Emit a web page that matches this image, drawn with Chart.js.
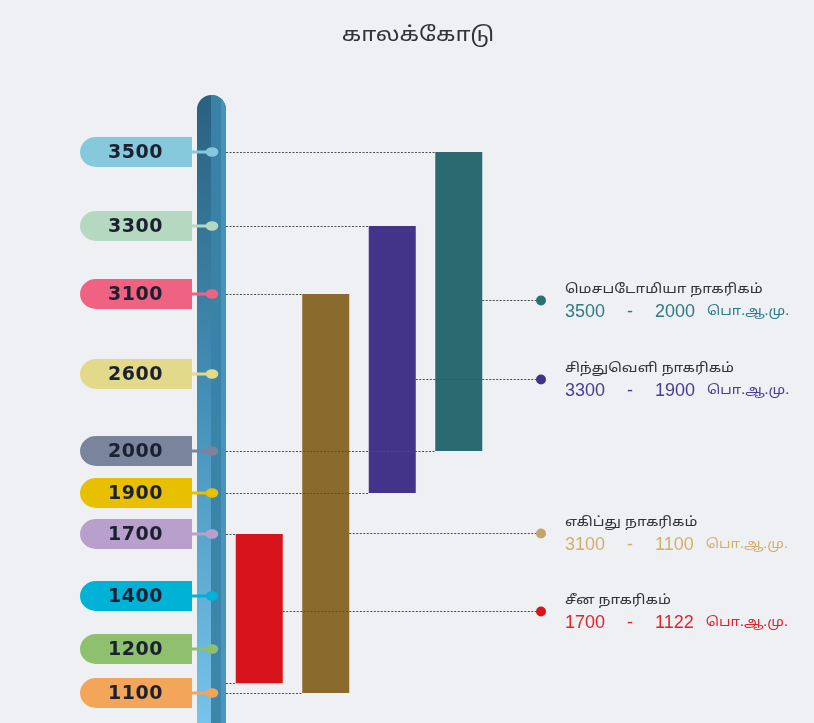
<!DOCTYPE html>
<html>
<head>
<meta charset="utf-8">
<script src="https://cdn.jsdelivr.net/npm/chart.js@4.4.0/dist/chart.umd.min.js"></script>
<style>
html, body { margin: 0; padding: 0; background: #eff0f4; }
#wrap { width: 814px; height: 723px; position: relative; }
</style>
</head>
<body>
<div id="wrap"><canvas id="c"></canvas></div>
<script>
// ---------- data ----------
const chartTitle = 'காலக்கோடு';
const civilizations = ['சீன நாகரிகம்', 'எகிப்து நாகரிகம்', 'சிந்துவெளி நாகரிகம்', 'மெசபடோமியா நாகரிகம்'];
const startYears = [1700, 3100, 3300, 3500];
const endYears = [1122, 1100, 1900, 2000];
const eraSuffix = 'பொ.ஆ.மு.';
const tickYears = [3500, 3300, 3100, 2600, 2000, 1900, 1700, 1400, 1200, 1100];
const tickLabels = ['3500', '3300', '3100', '2600', '2000', '1900', '1700', '1400', '1200', '1100'];
const labelAnchorYears = [1343, 1705, 2561, 3062];

// ---------- styles / layout ----------
const barColors = ['#d7141c', '#8b6a2e', '#43348a', '#2a6a70'];
const rangeTextColors = ['#e2232a', '#d2b06c', '#4a3c98', '#2d7c88'];
const labelDotColors = ['#d7141c', '#c4a468', '#3f3388', '#2a6f74'];
const tagColors = ['#87c9dc', '#b5d9c0', '#ef6282', '#e3d98a', '#7a849c', '#e8c000', '#b9a0cc', '#00b2d6', '#8fc06e', '#f3a65a'];
const tickGapWeights = [74, 68, 80, 77, 42, 41, 62, 53, 44];
const tamilFont = '"Noto Sans Tamil", "Latha", "Lohit Tamil", "Noto Sans", sans-serif';
const tamilStretch = 1.18;

// Timeline scale: ordinal-ish mapping between the labelled years
class TimelineScale extends Chart.LinearScale {
  static id = 'timeline';
  static defaults = {};
  _weightFor(value) {
    const s = tickYears, g = tickGapWeights;
    let cum = 0;
    for (let i = 0; i < s.length - 1; i++) {
      if (value >= s[i + 1] || i === s.length - 2) {
        const f = (s[i] - value) / (s[i] - s[i + 1]);
        return cum + f * g[i];
      }
      cum += g[i];
    }
    return cum;
  }
  _total() { return tickGapWeights.reduce((a, b) => a + b, 0); }
  getPixelForValue(value) {
    return this.top + this._weightFor(value) / this._total() * (this.bottom - this.top);
  }
  getValueForPixel(pixel) {
    const w = (pixel - this.top) / (this.bottom - this.top) * this._total();
    const s = tickYears, g = tickGapWeights;
    let cum = 0;
    for (let i = 0; i < g.length; i++) {
      if (w <= cum + g[i] || i === g.length - 1) {
        const f = (w - cum) / g[i];
        return s[i] - f * (s[i] - s[i + 1]);
      }
      cum += g[i];
    }
    return s[s.length - 1];
  }
}
Chart.register(TimelineScale);

function dotted(ctx) {
  ctx.strokeStyle = '#4f4f4f';
  ctx.lineWidth = 1;
  ctx.setLineDash([2, 1.5]);
}

function tamilText(ctx, text, x, y, size, align) {
  ctx.save();
  ctx.font = size + 'px ' + tamilFont;
  ctx.textAlign = align || 'left';
  ctx.textBaseline = 'middle';
  ctx.translate(x, y);
  ctx.scale(tamilStretch, 1);
  ctx.fillText(text, 0, 0);
  ctx.restore();
}

const timelinePlugin = {
  id: 'timelineDecor',
  beforeDraw(chart) {
    const ctx = chart.ctx;
    ctx.save();
    ctx.fillStyle = '#eff0f4';
    ctx.fillRect(0, 0, chart.width, chart.height);
    ctx.fillStyle = '#333333';
    tamilText(ctx, chartTitle, 418, 37, 20, 'center');
    ctx.restore();
  },
  beforeDatasetsDraw(chart) {
    const ctx = chart.ctx, ys = chart.scales.y, area = chart.chartArea;
    const pipeRight = area.left, pipeLeft = area.left - 29, pipeTop = 95, pipeBottom = chart.height;
    const r = (pipeRight - pipeLeft) / 2;
    ctx.save();
    const base = ctx.createLinearGradient(0, pipeTop, 0, pipeBottom);
    base.addColorStop(0, '#29617e');
    base.addColorStop(0.5, '#4591b9');
    base.addColorStop(1, '#77c3eb');
    ctx.beginPath();
    ctx.moveTo(pipeLeft, pipeBottom);
    ctx.lineTo(pipeLeft, pipeTop + r);
    ctx.arc(pipeLeft + r, pipeTop + r, r, Math.PI, 0);
    ctx.lineTo(pipeRight, pipeBottom);
    ctx.closePath();
    ctx.fillStyle = base;
    ctx.fill();
    ctx.clip();
    ctx.fillStyle = 'rgba(58,131,168,0.95)';
    ctx.fillRect(pipeLeft + 14, pipeTop, 10, pipeBottom - pipeTop);
    ctx.fillStyle = 'rgba(74,148,186,0.95)';
    ctx.fillRect(pipeLeft + 24, pipeTop, 5, pipeBottom - pipeTop);
    ctx.restore();

    const tagRight = pipeLeft - 5, tagLeft = 80, tagH = 30, dotX = pipeLeft + 15;
    tickYears.forEach((yr, i) => {
      const y = ys.getPixelForValue(yr);
      ctx.save();
      ctx.fillStyle = tagColors[i];
      ctx.beginPath();
      ctx.moveTo(tagRight, y - tagH / 2);
      ctx.lineTo(tagLeft + 16, y - tagH / 2);
      ctx.ellipse(tagLeft + 16, y, 16, tagH / 2, 0, -Math.PI / 2, Math.PI / 2, true);
      ctx.lineTo(tagRight, y + tagH / 2);
      ctx.closePath();
      ctx.fill();
      ctx.fillRect(tagRight - 1, y - 1.5, dotX - tagRight, 3);
      ctx.beginPath();
      ctx.ellipse(dotX, y, 6.3, 4.8, 0, 0, Math.PI * 2);
      ctx.fill();
      ctx.fillStyle = '#1b2130';
      ctx.font = 'bold 19px "DejaVu Sans", "Liberation Sans", Arial, sans-serif';
      try { ctx.letterSpacing = '0.5px'; } catch (e) {}
      ctx.textAlign = 'center';
      ctx.textBaseline = 'middle';
      ctx.fillText(tickLabels[i], 135.5, y + 1);
      ctx.restore();
    });
  },
  afterDatasetsDraw(chart) {
    const ctx = chart.ctx, ys = chart.scales.y, area = chart.chartArea;
    const meta = chart.getDatasetMeta(0);
    const pipeRight = area.left;
    const labelDotX = area.right + 49, textX = 565;
    ctx.save();
    meta.data.forEach((bar, i) => {
      const left = bar.x - bar.width / 2, right = bar.x + bar.width / 2;
      dotted(ctx);
      [startYears[i], endYears[i]].forEach(v => {
        const y = Math.round(ys.getPixelForValue(v)) + 0.5;
        ctx.beginPath();
        ctx.moveTo(pipeRight, y);
        ctx.lineTo(left, y);
        ctx.stroke();
      });
      const ay = Math.round(ys.getPixelForValue(labelAnchorYears[i])) + 0.5;
      ctx.beginPath();
      ctx.moveTo(right, ay);
      ctx.lineTo(labelDotX, ay);
      ctx.stroke();
      ctx.setLineDash([]);
      ctx.fillStyle = labelDotColors[i];
      ctx.beginPath();
      ctx.arc(labelDotX, ay, 5, 0, Math.PI * 2);
      ctx.fill();

      ctx.fillStyle = '#333333';
      tamilText(ctx, civilizations[i], textX, ay - 10, 12.8);
      ctx.fillStyle = rangeTextColors[i];
      ctx.textAlign = 'left';
      ctx.textBaseline = 'middle';
      ctx.font = '18px "Liberation Sans", Arial, sans-serif';
      try { ctx.wordSpacing = '17px'; } catch (e) {}
      const rangeText = startYears[i] + ' - ' + endYears[i];
      ctx.fillText(rangeText, textX, ay + 12);
      const w = ctx.measureText(rangeText).width;
      try { ctx.wordSpacing = '0px'; } catch (e) {}
      tamilText(ctx, eraSuffix, textX + w + 12, ay + 12, 12.5);
    });
    ctx.restore();
  }
};

new Chart(document.getElementById('c'), {
  type: 'bar',
  data: {
    labels: civilizations,
    datasets: [{
      label: chartTitle,
      data: civilizations.map((c, i) => [startYears[i], endYears[i]]),
      backgroundColor: barColors,
      borderWidth: 0,
      borderSkipped: false,
      barPercentage: 0.707,
      categoryPercentage: 1.0
    }]
  },
  options: {
    responsive: true,
    maintainAspectRatio: false,
    animation: false,
    layout: { padding: { left: 226, right: 322, top: 152, bottom: 30 } },
    plugins: {
      legend: { display: false },
      title: { display: false, text: chartTitle },
      tooltip: { enabled: false }
    },
    scales: {
      x: { type: 'category', display: false, offset: true, grid: { display: false } },
      y: { type: 'timeline', display: false, min: 1100, max: 3500, grid: { display: false } }
    }
  },
  plugins: [timelinePlugin]
});
</script>
</body>
</html>
